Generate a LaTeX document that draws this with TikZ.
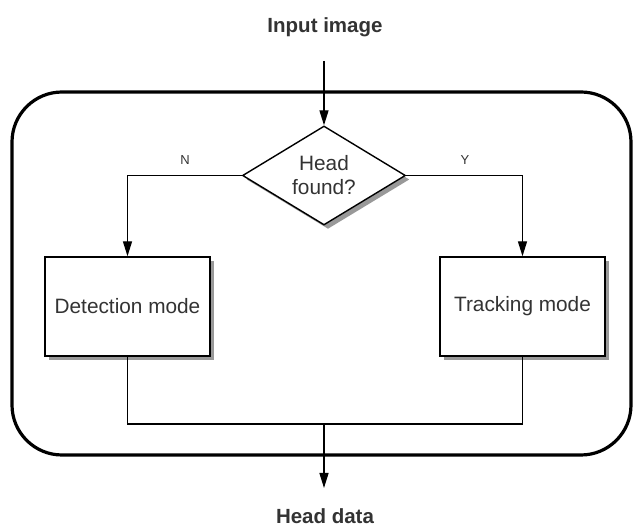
\documentclass[tikz,border=0pt]{standalone}
\usepackage{fontspec}
\setmainfont{Liberation Sans}
\usetikzlibrary{arrows.meta,shapes.geometric,shadows}
\definecolor{txt}{HTML}{333333}
\begin{document}
\begin{tikzpicture}[x=1pt,y=-1pt,
  font=\fontsize{20.8}{24}\selectfont,
  every node/.style={text=txt},
  arr/.style={draw=black,line width=1.4pt,-{Triangle[length=15pt,width=9pt]}},
  wire/.style={draw=black,line width=1.4pt},
  shade/.style={drop shadow={shadow xshift=4pt,shadow yshift=-4pt,fill=black!40,opacity=1}},
  procbox/.style={draw=black,line width=1.4pt,fill=white,shade,
    minimum width=165pt,minimum height=99pt,inner sep=0pt},
  decision/.style={diamond,draw=black,line width=1.4pt,fill=white,shade,
    aspect=1.65,minimum width=163pt,minimum height=99pt,inner sep=0pt,
    align=center,font=\fontsize{20.8}{24}\selectfont},
  title/.style={font=\bfseries\fontsize{20.5}{24}\selectfont},
  branch/.style={font=\fontsize{13}{15}\selectfont}]
\useasboundingbox (0,0) rectangle (633,529);

% outer container
\node[draw=black,line width=3.2pt,rounded corners=50pt,
  minimum width=619pt,minimum height=363pt] (frame) at (321.5,273.5) {};

% labels outside the container
\node[title] (input) at (325,27) {Input image};
\node[title] (output) at (325,516) {Head data};
\coordinate (instart) at (324,61);
\coordinate (join) at (324,424);
\coordinate (outend) at (324,488);

% decision and the two modes
\node[decision] (dec) at (324,175.5) {Head\\found?};
\node[procbox] (det) at (127.5,306.5) {Detection mode};
\node[procbox] (trk) at (522.5,306.5) {Tracking mode};

% connectors
\draw[arr] (instart) -- (dec.north);
\draw[arr] (dec.west) -| (det.north);
\draw[arr] (dec.east) -| (trk.north);
\draw[wire] (det.south) |- (join) -| (trk.south);
\draw[arr] (join) -- (outend);

% branch labels
\node[branch] (nlab) at (185,160) {N};
\node[branch] (ylab) at (465,160) {Y};
\end{tikzpicture}
\end{document}
